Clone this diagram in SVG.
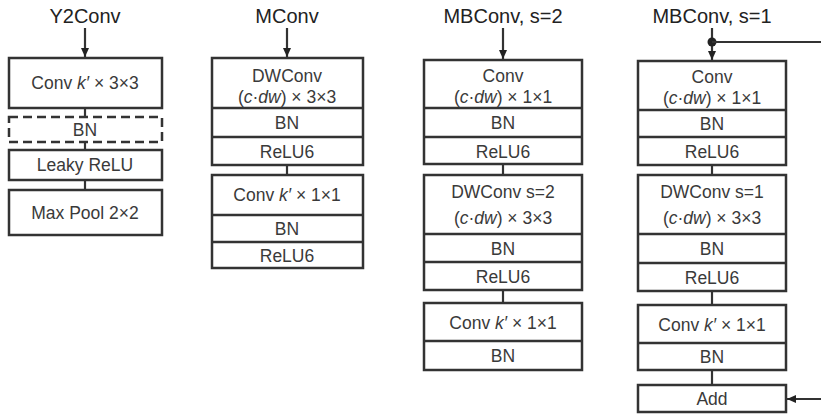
<svg xmlns="http://www.w3.org/2000/svg" width="821" height="416" viewBox="0 0 821 416">
<defs>
<style>
.b{fill:#fff;stroke:#333;stroke-width:2.5}
.d{fill:none;stroke:#333;stroke-width:2.5;stroke-dasharray:9 5}
.l{fill:none;stroke:#333;stroke-width:2.2}
.t{font-family:"Liberation Sans",Arial,sans-serif;font-size:17.5px;fill:#3a3a3a;text-anchor:middle}
.h{font-family:"Liberation Sans",Arial,sans-serif;font-size:20px;fill:#222;text-anchor:middle}
.i{font-style:italic}
</style>
<marker id="ah" markerWidth="10" markerHeight="10" refX="9" refY="5" orient="auto" markerUnits="userSpaceOnUse">
<path d="M0,1 L9,5 L0,9 Z" fill="#222"/>
</marker>
</defs>
<rect width="821" height="416" fill="#fff"/>

<g id="titles">
<text class="h" x="85" y="23">Y2Conv</text>
<text class="h" x="287" y="23">MConv</text>
<text class="h" x="503" y="23">MBConv, s=2</text>
<text class="h" x="712" y="23">MBConv, s=1</text>
</g>

<g id="connectors">
<line class="l" x1="85" y1="28" x2="85" y2="57" marker-end="url(#ah)"/>
<line class="l" x1="85" y1="108" x2="85" y2="117"/>
<line class="l" x1="85" y1="142" x2="85" y2="150"/>
<line class="l" x1="85" y1="180" x2="85" y2="190"/>
<line class="l" x1="287" y1="28" x2="287" y2="57" marker-end="url(#ah)"/>
<line class="l" x1="287" y1="165" x2="287" y2="175"/>
<line class="l" x1="503" y1="28" x2="503" y2="59" marker-end="url(#ah)"/>
<line class="l" x1="503" y1="164" x2="503" y2="175"/>
<line class="l" x1="503" y1="290" x2="503" y2="303"/>
<line class="l" x1="712" y1="28" x2="712" y2="60" marker-end="url(#ah)"/>
<circle cx="712" cy="42" r="4.5" fill="#222"/>
<line class="l" x1="712" y1="42" x2="821" y2="42"/>
<line class="l" x1="712" y1="165" x2="712" y2="175"/>
<line class="l" x1="712" y1="291" x2="712" y2="305"/>
<line class="l" x1="712" y1="370" x2="712" y2="385"/>
<line class="l" x1="821" y1="399" x2="787" y2="399" marker-end="url(#ah)"/>
</g>

<g id="y2-conv">
<rect class="b" x="9" y="58" width="153" height="50"/>
<text class="t" x="85" y="89">Conv <tspan class="i">k′</tspan> × 3×3</text>
</g>
<g id="y2-bn">
<rect class="d" x="9" y="117" width="153" height="25"/>
<text class="t" x="85" y="136">BN</text>
</g>
<g id="y2-leaky">
<rect class="b" x="9" y="150" width="153" height="30"/>
<text class="t" x="85" y="171">Leaky ReLU</text>
</g>
<g id="y2-maxpool">
<rect class="b" x="9" y="190" width="153" height="45"/>
<text class="t" x="85" y="219">Max Pool 2×2</text>
</g>

<g id="m-dw">
<rect class="b" x="212" y="58" width="151" height="107"/>
<line class="b" x1="212" y1="108" x2="363" y2="108"/>
<line class="b" x1="212" y1="137" x2="363" y2="137"/>
<text class="t" x="287" y="82">DWConv</text>
<text class="t" x="287" y="103">(<tspan class="i">c</tspan>·<tspan class="i">dw</tspan>) × 3×3</text>
<text class="t" x="287" y="129">BN</text>
<text class="t" x="287" y="158">ReLU6</text>
</g>
<g id="m-conv">
<rect class="b" x="212" y="175" width="151" height="93"/>
<line class="b" x1="212" y1="215" x2="363" y2="215"/>
<line class="b" x1="212" y1="242" x2="363" y2="242"/>
<text class="t" x="287" y="201">Conv <tspan class="i">k′</tspan> × 1×1</text>
<text class="t" x="287" y="235">BN</text>
<text class="t" x="287" y="262">ReLU6</text>
</g>

<g id="mb2-expand">
<rect class="b" x="424" y="60" width="158" height="104"/>
<line class="b" x1="424" y1="108" x2="582" y2="108"/>
<line class="b" x1="424" y1="137" x2="582" y2="137"/>
<text class="t" x="503" y="82">Conv</text>
<text class="t" x="503" y="103">(<tspan class="i">c</tspan>·<tspan class="i">dw</tspan>) × 1×1</text>
<text class="t" x="503" y="129">BN</text>
<text class="t" x="503" y="158">ReLU6</text>
</g>
<g id="mb2-dw">
<rect class="b" x="424" y="175" width="158" height="115"/>
<line class="b" x1="424" y1="234" x2="582" y2="234"/>
<line class="b" x1="424" y1="262" x2="582" y2="262"/>
<text class="t" x="503" y="198">DWConv s=2</text>
<text class="t" x="503" y="224">(<tspan class="i">c</tspan>·<tspan class="i">dw</tspan>) × 3×3</text>
<text class="t" x="503" y="255">BN</text>
<text class="t" x="503" y="283">ReLU6</text>
</g>
<g id="mb2-project">
<rect class="b" x="424" y="303" width="158" height="67"/>
<line class="b" x1="424" y1="341" x2="582" y2="341"/>
<text class="t" x="503" y="329">Conv <tspan class="i">k′</tspan> × 1×1</text>
<text class="t" x="503" y="362">BN</text>
</g>

<g id="mb1-expand">
<rect class="b" x="638" y="61" width="148" height="104"/>
<line class="b" x1="638" y1="110" x2="786" y2="110"/>
<line class="b" x1="638" y1="137" x2="786" y2="137"/>
<text class="t" x="712" y="83">Conv</text>
<text class="t" x="712" y="104">(<tspan class="i">c</tspan>·<tspan class="i">dw</tspan>) × 1×1</text>
<text class="t" x="712" y="130">BN</text>
<text class="t" x="712" y="158">ReLU6</text>
</g>
<g id="mb1-dw">
<rect class="b" x="638" y="175" width="148" height="116"/>
<line class="b" x1="638" y1="234" x2="786" y2="234"/>
<line class="b" x1="638" y1="263" x2="786" y2="263"/>
<text class="t" x="712" y="198">DWConv s=1</text>
<text class="t" x="712" y="224">(<tspan class="i">c</tspan>·<tspan class="i">dw</tspan>) × 3×3</text>
<text class="t" x="712" y="255">BN</text>
<text class="t" x="712" y="284">ReLU6</text>
</g>
<g id="mb1-project">
<rect class="b" x="638" y="305" width="148" height="65"/>
<line class="b" x1="638" y1="343" x2="786" y2="343"/>
<text class="t" x="712" y="331">Conv <tspan class="i">k′</tspan> × 1×1</text>
<text class="t" x="712" y="363">BN</text>
</g>
<g id="mb1-add">
<rect class="b" x="638" y="385" width="148" height="27"/>
<text class="t" x="712" y="405">Add</text>
</g>
</svg>
